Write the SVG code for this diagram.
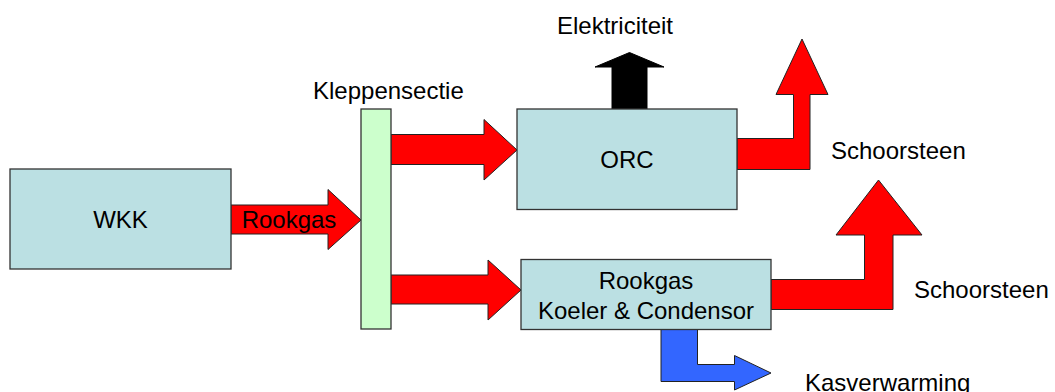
<svg xmlns="http://www.w3.org/2000/svg" width="1055" height="392" viewBox="0 0 1055 392">
<style>
.box{fill:#BBE0E3;stroke:#333;stroke-width:1.3}
.klep{fill:#CCFFCC;stroke:#333;stroke-width:1.3}
.red{fill:#FF0000;stroke:#222;stroke-width:1}
.blk{fill:#000;stroke:#000;stroke-width:1}
.blue{fill:#3366FF;stroke:#222;stroke-width:1}
text{font-family:"Liberation Sans",Arial,sans-serif;font-size:24px;fill:#000}
.c{text-anchor:middle}
</style>
<rect width="1055" height="392" fill="#fff"/>
<g id="connectors">
<polygon class="red" points="231,205 328,205 328,189.5 361,220 328,249.5 328,234 231,234"/>
<text class="c" x="289" y="228">Rookgas</text>
<polygon class="red" points="391,134.5 484,134.5 484,119.5 517,150 484,180 484,164.5 391,164.5"/>
<polygon class="red" points="391,275 488,275 488,260 521,290 488,320 488,304 391,304"/>
<polygon class="blk" points="612,109 612,67 595,67 629.5,52.5 664,67 647,67 647,109"/>
<polygon class="red" points="737,138.5 793.5,138.5 793.5,94.5 776,94.5 802,39 828,94.5 810,94.5 810,169.5 737,169.5"/>
<polygon class="red" points="771,279.5 864.5,279.5 864.5,235 836,235 878.5,180 922,235 893,235 893,309.5 771,309.5"/>
<polygon class="blue" points="661,329.5 697.5,329.5 697.5,364.5 734.5,364.5 734.5,355.5 771,373 734.5,390 734.5,381.5 661,381.5"/>
</g>
<g id="wkk">
<rect class="box" x="10" y="169" width="221" height="100"/>
<text class="c" x="120.5" y="228">WKK</text>
</g>
<g id="kleppensectie">
<rect class="klep" x="361" y="109" width="30" height="220"/>
<text x="313" y="99">Kleppensectie</text>
</g>
<g id="orc">
<rect class="box" x="517" y="109" width="220" height="100.5"/>
<text class="c" x="627" y="168">ORC</text>
</g>
<g id="koeler">
<rect class="box" x="521" y="259.5" width="250" height="70"/>
<text class="c" x="646" y="289">Rookgas</text>
<text class="c" x="646" y="318.5">Koeler &amp; Condensor</text>
</g>
<g id="elektriciteit">
<text x="557" y="34">Elektriciteit</text>
</g>
<g id="schoorsteen1">
<text x="831" y="159">Schoorsteen</text>
</g>
<g id="schoorsteen2">
<text x="914" y="298">Schoorsteen</text>
</g>
<g id="kasverwarming">
<text x="805" y="391">Kasverwarming</text>
</g>
</svg>
